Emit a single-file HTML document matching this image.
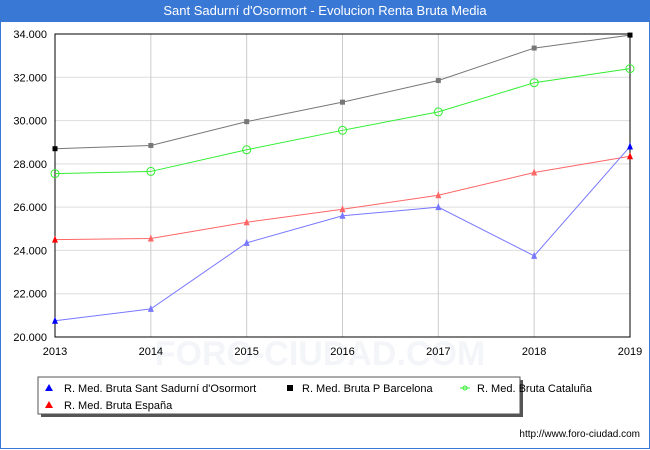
<!DOCTYPE html>
<html><head><meta charset="utf-8"><style>
body{margin:0;width:650px;height:450px;background:#fff;font-family:"Liberation Sans","DejaVu Sans",sans-serif;overflow:hidden;position:relative}
#title{position:absolute;left:0;top:0;width:650px;height:22px;background:#3a78d6;color:#fff;font-size:13px;text-align:center;line-height:22px}
#frame{position:absolute;left:0;top:22px;width:648px;height:426px;border:1px solid #3a78d6;border-top:none}
</style></head><body>
<div id="title">Sant Sadurní d'Osormort - Evolucion Renta Bruta Media</div>
<div id="frame"></div>
<svg id="chart" width="650" height="450" style="position:absolute;left:0;top:0"></svg>
<script>
const years=[2013,2014,2015,2016,2017,2018,2019];
const yTicks=[20000,22000,24000,26000,28000,30000,32000,34000];
const sant=[20750,21300,24350,25600,26000,23750,28800];
const bcn=[28700,28850,29950,30850,31850,33350,33950];
const cat=[27550,27650,28650,29550,30400,31750,32400];
const esp=[24500,24550,25300,25900,26550,27600,28350];
const NS="http://www.w3.org/2000/svg";
const svg=document.getElementById('chart');
const X0=55,X1=630,Y0=337,Y1=34;
const xs=i=>X0+(X1-X0)*i/(years.length-1);
const ys=v=>Y0-(v-20000)/(34000-20000)*(Y0-Y1);
function mk(t,a,p){const e=document.createElementNS(NS,t);for(const k in a)e.setAttribute(k,a[k]);(p||svg).appendChild(e);return e;}
const wm=mk('text',{x:320,y:365,'font-size':34,fill:'#f4f5f8','text-anchor':'middle','font-weight':'bold'});


wm.textContent='FORO-CIUDAD.COM';
yTicks.forEach(v=>{
 const l=mk('line',{x1:X0,x2:X1,y1:ys(v),y2:ys(v),stroke:'#ddd'});
 
 
 const t=mk('text',{x:X0-8,y:ys(v)+4,'font-size':11,'text-anchor':'end',fill:'#000'});
 
 
 t.textContent=v.toLocaleString('de-DE');
});
years.forEach((y,i)=>{
 const l=mk('line',{x1:xs(i),x2:xs(i),y1:Y1,y2:Y0,stroke:'#ccc'});
 
 
 const t=mk('text',{x:xs(i),y:Y0+18,'font-size':11,'text-anchor':'middle'});
 
 
 t.textContent=y;
});
const ax=mk('rect',{x:X0,y:Y1,width:X1-X0,height:Y0-Y1,fill:'none',stroke:'#000'});


const mark2={sant:'#0000ff',esp:'#ff0000'};
function series(d,col,mark,name){
 const p=mk('polyline',{points:d.map((v,i)=>xs(i)+','+ys(v)).join(' '),fill:'none',stroke:col,'stroke-width':1});
 
 
 d.forEach((v,i)=>{
  const x=xs(i),y=ys(v);let m;
  const end=(i==0||i==d.length-1);
  if(mark=='tri')m=mk('polygon',{points:`${x-3},${y+3} ${x+3},${y+3} ${x},${y-4}`,fill:end?mark2[name]:col});
  else if(mark=='sq')m=mk('rect',{x:x-2.5,y:y-2.5,width:5,height:5,fill:end?'#000':col});
  else m=mk('circle',{cx:x,cy:y,r:4,fill:'none',stroke:col});
  
  
 });
}
series(bcn,'#777','sq','bcn');
series(cat,'#33ee33','circ','cat');
series(esp,'#ff6666','tri','esp');
series(sant,'#7777ff','tri','sant');
const lg=mk('g',{});


mk('rect',{x:41,y:380,width:482,height:37,fill:'#555'},lg);
mk('rect',{x:38,y:377,width:482,height:37,fill:'#fff',stroke:'#555'},lg);
const items=[[45,388,'#0000ff','tri','R. Med. Bruta Sant Sadurní d\'Osormort'],[290,388,'#000','sq','R. Med. Bruta P Barcelona'],[465,388,'#33ee33','circ','R. Med. Bruta Cataluña'],[45,405,'#ff0000','tri','R. Med. Bruta España']];
items.forEach(it=>{
 const [x,y,c,m,t]=it;
 const g=mk('g',{},lg);
 
 
 if(m=='tri')mk('polygon',{points:`${x},${y+3} ${x+8},${y+3} ${x+4},${y-4}`,fill:c},g);
 else if(m=='sq')mk('rect',{x:x-3,y:y-3,width:6,height:6,fill:c},g);
 else{mk('line',{x1:x-5,x2:x+5,y1:y,y2:y,stroke:c},g);mk('circle',{cx:x,cy:y,r:2,fill:'none',stroke:c},g);}
 const tx=mk('text',{x:x+(m=='tri'?19:12),y:y+4,'font-size':11},g);
 tx.textContent=t;
});
const url=mk('text',{x:640,y:437,'font-size':10,'text-anchor':'end'});


url.textContent='http://www.foro-ciudad.com';
</script>
</body></html>
